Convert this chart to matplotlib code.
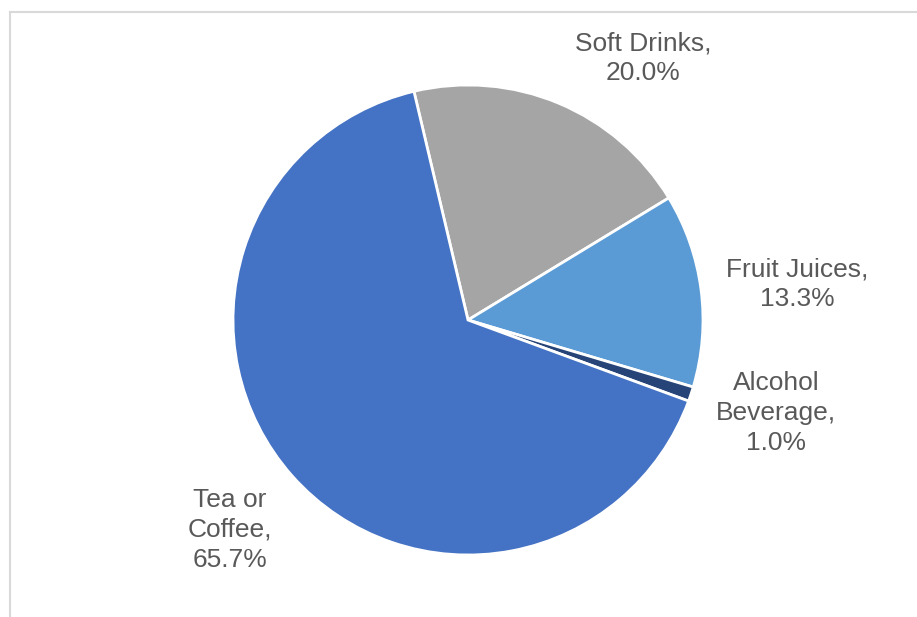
import matplotlib.pyplot as plt
from matplotlib.lines import Line2D

plt.rcParams['font.family'] = ['Liberation Sans', 'DejaVu Sans']

categories = ["Soft Drinks", "Fruit Juices", "Alcohol\nBeverage", "Tea or\nCoffee"]
shares = [20.0, 13.3, 1.0, 65.7]
colors = ["#A5A5A5", "#5B9BD5", "#264478", "#4472C4"]

# label anchor points in pixel space (x from left, y from top)
label_xy = [(643, 58), (797, 284), (776, 413), (230, 530)]

W, H = 917, 617
fig = plt.figure(figsize=(W / 100, H / 100), dpi=100)
ax = fig.add_axes([0, 0, 1, 1])
ax.set_xlim(0, W)
ax.set_ylim(0, H)
ax.set_aspect("equal")
ax.axis("off")

# chart frame (only top and left edges are in view)
frame = "#d9d9d9"
ax.add_line(Line2D([10, 10], [0, H - 12], color=frame, lw=1.5))
ax.add_line(Line2D([10, W], [H - 12, H - 12], color=frame, lw=1.5))

ax.pie(shares, colors=colors, startangle=103.3, counterclock=False,
       center=(468, H - 320), radius=235,
       wedgeprops=dict(edgecolor="white", linewidth=2))
ax.set_xlim(0, W)
ax.set_ylim(0, H)

for name, val, (x, y) in zip(categories, shares, label_xy):
    ax.text(x, H - y, f"{name},\n{val:.1f}%", ha="center", va="center",
            fontsize=19, color="#595959", linespacing=1.3)

fig.savefig("out.png", dpi=100)
